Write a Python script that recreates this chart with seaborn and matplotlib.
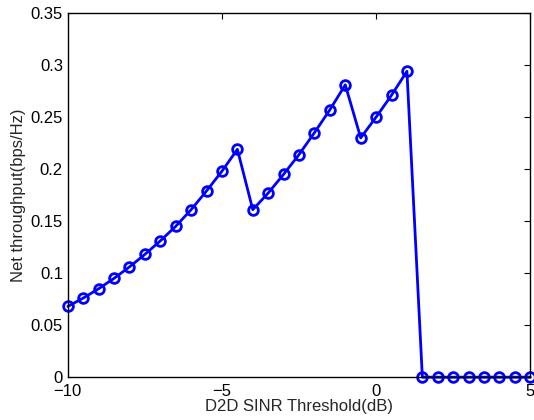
import matplotlib
matplotlib.use("Agg")
import matplotlib.pyplot as plt
import seaborn as sns
import numpy as np
import pandas as pd

threshold_db = [-10, -9.5, -9, -8.5, -8, -7.5, -7, -6.5, -6, -5.5, -5, -4.5, -4, -3.5, -3,
                -2.5, -2, -1.5, -1, -0.5, 0, 0.5, 1, 1.5, 2, 2.5, 3, 3.5, 4, 4.5, 5]
throughput = [0.068, 0.076, 0.085, 0.095, 0.106, 0.118, 0.131, 0.145, 0.161, 0.179, 0.198,
              0.219, 0.161, 0.177, 0.195, 0.214, 0.235, 0.257, 0.281, 0.230, 0.250, 0.271,
              0.294, 0, 0, 0, 0, 0, 0, 0, 0]
xticks = [-10, -5, 0, 5]
yticks = [0, 0.05, 0.1, 0.15, 0.2, 0.25, 0.3, 0.35]

df = pd.DataFrame({"x": threshold_db, "y": throughput})

sns.set_style("white")
plt.rcParams['font.family'] = ['Liberation Sans', 'DejaVu Sans']

fig = plt.figure(figsize=(5.34, 4.2), dpi=100)
ax = fig.add_axes([0.127, 0.102, 0.866, 0.867])
sns.lineplot(data=df, x="x", y="y", ax=ax, color="#0000ff", linewidth=2,
             marker="o", markersize=7, markerfacecolor="none",
             markeredgecolor="#0000ff", markeredgewidth=2, clip_on=False)
ax.set_xlim(-10, 5)
ax.set_ylim(0, 0.35)
ax.set_xticks(xticks)
ax.set_xticklabels(["\u221210", "\u22125", "0", "5"])
ax.set_yticks(yticks)
ax.set_yticklabels(["0", "0.05", "0.1", "0.15", "0.2", "0.25", "0.3", "0.35"])
ax.tick_params(direction="in", top=True, right=True, length=4, labelsize=12, colors="black", width=0.8)
ax.tick_params(axis="x", pad=5)
for s in ax.spines.values():
    s.set_color("black")
    s.set_linewidth(1)
ax.set_xlabel("D2D SINR Threshold(dB)", fontsize=12, labelpad=0)
ax.set_ylabel("Net throughput(bps/Hz)", fontsize=12, labelpad=3)
fig.savefig("out.png", dpi=100)
